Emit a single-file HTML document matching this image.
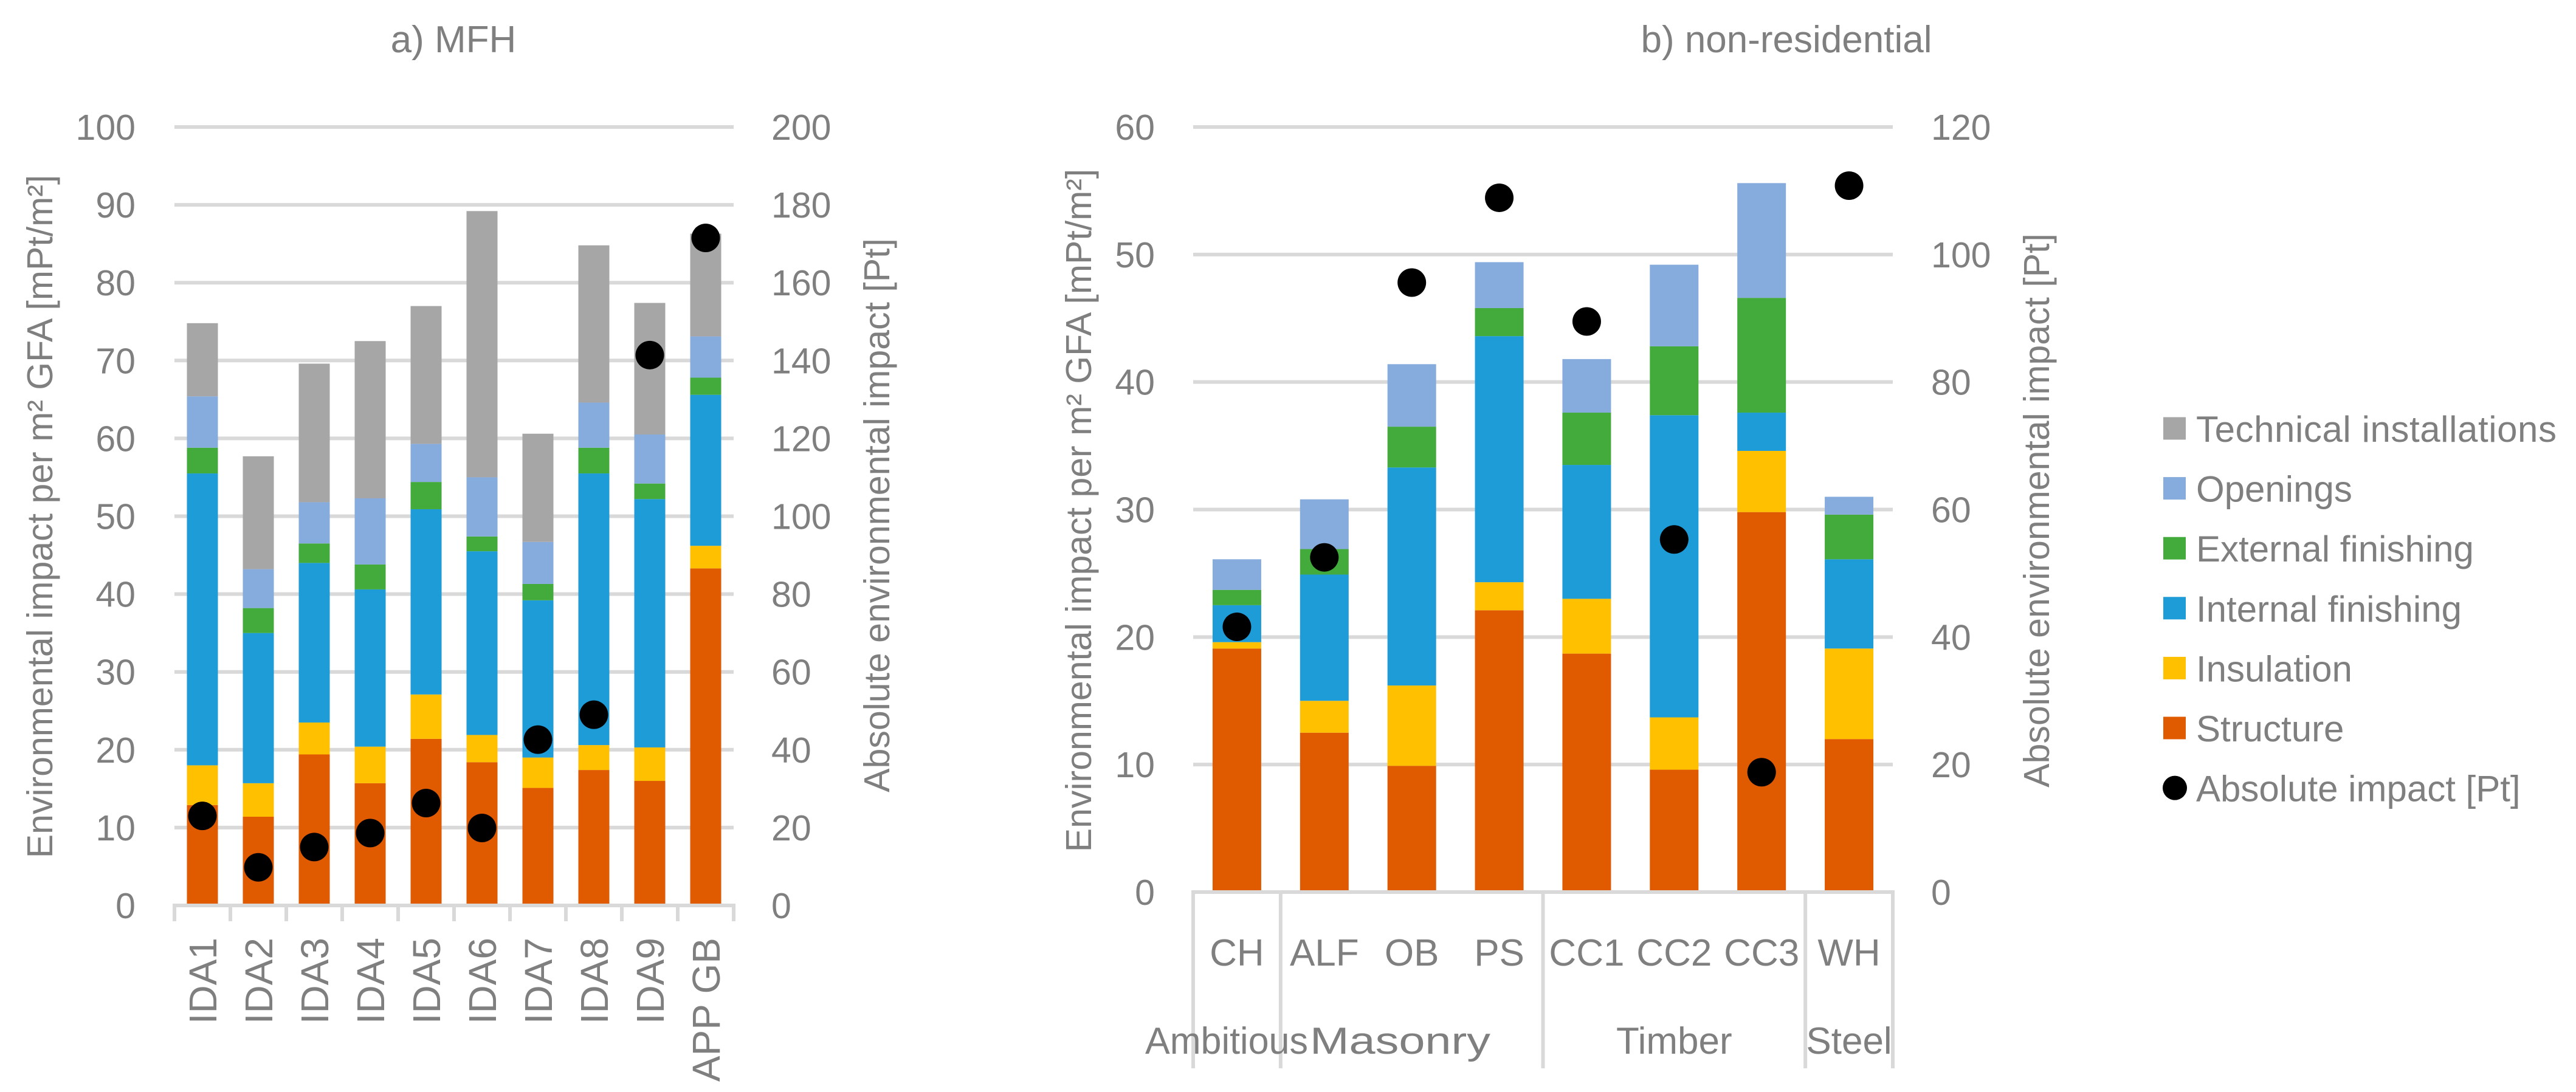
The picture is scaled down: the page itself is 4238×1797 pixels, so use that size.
<!DOCTYPE html>
<html><head><meta charset="utf-8"><style>
html,body{margin:0;padding:0;background:#fff}
svg{display:block}
text{font-family:"Liberation Sans",sans-serif;fill:#7f7f7f}
</style></head><body>
<svg id="chart" width="4238" height="1797" viewBox="0 0 4238 1797" xmlns="http://www.w3.org/2000/svg">
<g id="ga"></g>
<g id="gb"></g>
<g id="legend"></g>
</svg>
<script>
// ---- Data: panel a (MFH) ----
const catsA = ["IDA1","IDA2","IDA3","IDA4","IDA5","IDA6","IDA7","IDA8","IDA9","APP GB"];
const structureA = [12.9,11.4,19.4,15.7,21.4,18.4,15.1,17.4,16.0,43.3];
const insulationA = [5.1,4.3,4.1,4.7,5.7,3.5,3.9,3.2,4.3,2.9];
const internalA = [37.5,19.3,20.5,20.2,23.8,23.6,20.2,34.9,31.9,19.4];
const externalA = [3.3,3.2,2.5,3.2,3.5,1.9,2.1,3.3,2.0,2.2];
const openingsA = [6.6,5.0,5.3,8.5,4.9,7.6,5.4,5.8,6.3,5.3];
const technicalA = [9.4,14.5,17.8,20.2,17.7,34.2,13.9,20.2,16.9,13.2];
const absoluteA = [23,9.8,15,18.6,26.3,19.9,42.6,49,141.4,171.5];
const ticksLeftA = [0,10,20,30,40,50,60,70,80,90,100];
const ticksRightA = [0,20,40,60,80,100,120,140,160,180,200];
// ---- Data: panel b (non-residential) ----
const catsB = ["CH","ALF","OB","PS","CC1","CC2","CC3","WH"];
const groupsB = ["Ambitious","Masonry","Timber","Steel"];
const groupSizesB = [1,3,3,1];
const structureB = [19.1,12.5,9.9,22.1,18.7,9.6,29.8,12.0];
const insulationB = [0.5,2.5,6.3,2.2,4.3,4.1,4.8,7.1];
const internalB = [2.9,9.9,17.1,19.3,10.5,23.7,3.0,7.0];
const externalB = [1.2,2.0,3.2,2.2,4.1,5.4,9.0,3.5];
const openingsB = [2.4,3.9,4.9,3.6,4.2,6.4,9.0,1.4];
const technicalB = [0,0,0,0,0,0,0,0];
const absoluteB = [41.6,52.5,95.6,108.9,89.5,55.3,18.8,110.8];
const ticksLeftB = [0,10,20,30,40,50,60];
const ticksRightB = [0,20,40,60,80,100,120];
const seriesNames = ["Technical installations","Openings","External finishing","Internal finishing","Insulation","Structure","Absolute impact [Pt]"];
const colors = {structure:"#e05a00",insulation:"#ffc000",internal:"#1e9cd8",external:"#43ab3b",openings:"#86abdd",technical:"#a6a6a6"};

const NS="http://www.w3.org/2000/svg";
function mk(parent,tag,attrs,txt){const e=document.createElementNS(NS,tag);for(const k in attrs)e.setAttribute(k,attrs[k]);if(txt!==undefined)e.textContent=txt;parent.appendChild(e);return e;}

function panel(g,cfg){
  const {x0,x1,yTop,yBase,maxL,maxR,cats,stacks,abs,tL,tR,barW}=cfg;
  const yL=v=>yBase-(v/maxL)*(yBase-yTop);
  const yR=v=>yBase-(v/maxR)*(yBase-yTop);
  const cw=(x1-x0)/cats.length;
  const cx=i=>x0+cw*(i+0.5);
  tL.forEach(v=>{
    if(v>0){const l=mk(g,"line",{x1:x0,x2:x1,y1:yL(v),y2:yL(v),stroke:"#d9d9d9","stroke-width":6});
      
      }
    const t=mk(g,"text",{x:cfg.lx,y:yL(v)+21,"text-anchor":"end","font-size":59},String(v));
    
    
  });
  tR.forEach(v=>{
    const t=mk(g,"text",{x:cfg.rx,y:yR(v)+21,"text-anchor":"start","font-size":59},String(v));
    
    
  });
  cats.forEach((c,i)=>{
    let acc=0;
    stacks.forEach(s=>{
      const v=s.vals[i]; if(!v) {return;}
      const r=mk(g,"rect",{x:cx(i)-barW/2,y:yL(acc+v),width:barW,height:yL(acc)-yL(acc+v),fill:s.color});
      
      
      acc+=v;
    });
  });
  const ax=mk(g,"line",{x1:x0-3,x2:x1+3,y1:yBase,y2:yBase,stroke:"#d9d9d9","stroke-width":6});
  
  
  abs.forEach((v,i)=>{
    const d=mk(g,"circle",{cx:cx(i),cy:yR(v),r:23.5,fill:"#000"});
    
    
  });
  return {cx,cw,yL,yR};
}

// Panel a
const ga=document.getElementById('ga');
const pa=panel(ga,{x0:287,x1:1207,yTop:209,yBase:1490,maxL:100,maxR:200,cats:catsA,abs:absoluteA,tL:ticksLeftA,tR:ticksRightA,lx:223,rx:1269,barW:51,
 stacks:[{key:'structure',vals:structureA,color:colors.structure},{key:'insulation',vals:insulationA,color:colors.insulation},{key:'internal-finishing',vals:internalA,color:colors.internal},{key:'external-finishing',vals:externalA,color:colors.external},{key:'openings',vals:openingsA,color:colors.openings},{key:'technical-installations',vals:technicalA,color:colors.technical}]});
for(let i=0;i<=catsA.length;i++){
  const x=287+pa.cw*i;
  const l=mk(ga,"line",{x1:x,x2:x,y1:1490,y2:1516,stroke:"#d9d9d9","stroke-width":6});
  
  
}
catsA.forEach((c,i)=>{
  const t=mk(ga,"text",{transform:`translate(${pa.cx(i)+23},1543) rotate(-90)`,"text-anchor":"end","font-size":64},c);
  
  
});
mk(ga,"text",{x:746,y:86,"text-anchor":"middle","font-size":62,},"a) MFH");
mk(ga,"text",{transform:"translate(86,850) rotate(-90)","text-anchor":"middle","font-size":59,},"Environmental impact per m² GFA [mPt/m²]");
mk(ga,"text",{transform:"translate(1463,848) rotate(-90)","text-anchor":"middle","font-size":59,},"Absolute environmental impact [Pt]");

// Panel b
const gb=document.getElementById('gb');
const pb=panel(gb,{x0:1963,x1:3114,yTop:209,yBase:1468,maxL:60,maxR:120,cats:catsB,abs:absoluteB,tL:ticksLeftB,tR:ticksRightB,lx:1900,rx:3177,barW:80,
 stacks:[{key:'structure',vals:structureB,color:colors.structure},{key:'insulation',vals:insulationB,color:colors.insulation},{key:'internal-finishing',vals:internalB,color:colors.internal},{key:'external-finishing',vals:externalB,color:colors.external},{key:'openings',vals:openingsB,color:colors.openings},{key:'technical-installations',vals:technicalB,color:colors.technical}]});
catsB.forEach((c,i)=>{
  const t=mk(gb,"text",{x:pb.cx(i),y:1589,"text-anchor":"middle","font-size":62},c);
  
  
});
let start=0;
const divs=[0];
groupSizesB.forEach(n=>{start+=n;divs.push(start);});
divs.forEach(k=>{
  const x=1963+pb.cw*k;
  const l=mk(gb,"line",{x1:x,x2:x,y1:1468,y2:1758,stroke:"#d9d9d9","stroke-width":6});
  
  
});
groupsB.forEach((gname,j)=>{
  const xm=1963+pb.cw*(divs[j]+divs[j+1])/2;
  let attrs={x:xm,y:1734,"text-anchor":"middle","font-size":62};
  if(j===0){attrs={x:1884,y:1734,"text-anchor":"start","font-size":62,textLength:268,lengthAdjust:"spacingAndGlyphs"};}
  if(j===1){attrs={x:2155,y:1734,"text-anchor":"start","font-size":62,textLength:297,lengthAdjust:"spacingAndGlyphs"};}
  const t=mk(gb,"text",attrs,gname);
  
  
});
mk(gb,"text",{x:2939,y:86,"text-anchor":"middle","font-size":62,},"b) non-residential");
mk(gb,"text",{transform:"translate(1795,840) rotate(-90)","text-anchor":"middle","font-size":59,},"Environmental impact per m² GFA [mPt/m²]");
mk(gb,"text",{transform:"translate(3371,840) rotate(-90)","text-anchor":"middle","font-size":59,},"Absolute environmental impact [Pt]");

// Legend
const lg=document.getElementById('legend');
const legColors=[colors.technical,colors.openings,colors.external,colors.internal,colors.insulation,colors.structure,"#000"];
seriesNames.forEach((n,i)=>{
  const y=705+i*98.6;
  if(i<6){const r=mk(lg,"rect",{x:3559,y:y-18.5,width:37,height:37,fill:legColors[i]});
    
    }
  else{const c=mk(lg,"circle",{cx:3578,cy:y,r:20,fill:"#000"});
    
    }
  const t=mk(lg,"text",{x:3613,y:y+22,"font-size":60},n);
  if(i===0)t.setAttribute('textLength','593');
  
  
});
</script>
</body></html>
